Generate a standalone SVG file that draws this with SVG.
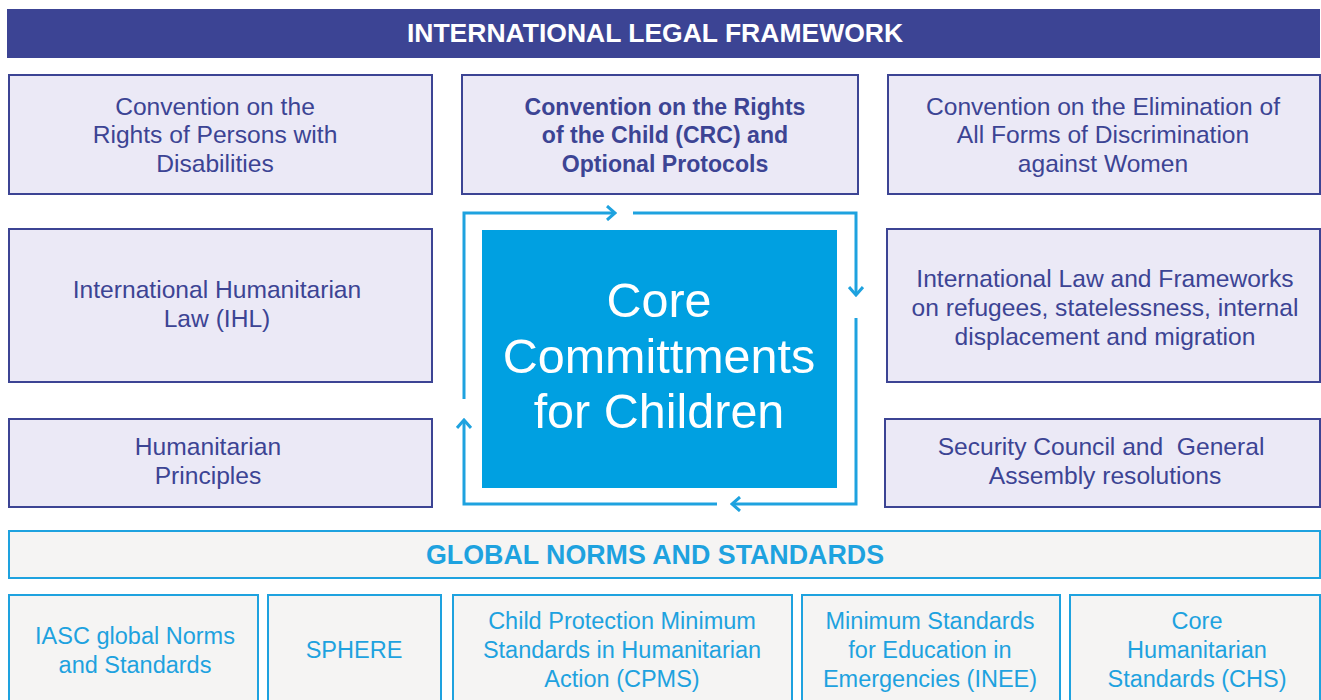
<svg xmlns="http://www.w3.org/2000/svg" width="1321" height="700" viewBox="0 0 1321 700">
<style>
.hdr{fill:#3c4494}
.hdrt{font-family:"Liberation Sans",Arial,sans-serif;font-weight:bold;font-size:26.5px;fill:#fff;text-anchor:middle}
.lb{fill:#ebe9f6;stroke:#3c4494;stroke-width:2}
.lt{font-family:"Liberation Sans",Arial,sans-serif;font-size:24.6px;fill:#3c4494;text-anchor:middle;white-space:pre}
.bold{font-weight:bold;font-size:23.1px}
.gb{fill:#f5f4f3;stroke:#1ea2df;stroke-width:2}
.gt{font-family:"Liberation Sans",Arial,sans-serif;font-size:23.5px;fill:#1ea2df;text-anchor:middle}
.ght{font-family:"Liberation Sans",Arial,sans-serif;font-weight:bold;font-size:26.8px;fill:#1ea2df;text-anchor:middle}
.core{fill:#00a0e1}
.coret{font-family:"Liberation Sans",Arial,sans-serif;font-size:48.5px;fill:#fff;text-anchor:middle}
.conn{fill:none;stroke:#1ea2df;stroke-width:3;stroke-linejoin:miter}
</style>
<defs>
<marker id="chev" viewBox="0 0 12 16" refX="10" refY="8" markerWidth="12" markerHeight="16" markerUnits="userSpaceOnUse" orient="auto">
<path d="M2,1 L10,8 L2,15" fill="none" stroke="#1ea2df" stroke-width="3"/>
</marker>
</defs>
<rect width="1321" height="700" fill="#fff"/>

<g id="header-ilf">
<rect class="hdr" x="7" y="9" width="1313" height="49"/>
<text class="hdrt" x="655" y="42">INTERNATIONAL LEGAL FRAMEWORK</text>
</g>

<g id="crpd">
<rect class="lb" x="9" y="75" width="423" height="119"/>
<text class="lt" x="215" y="115">Convention on the</text>
<text class="lt" x="215" y="143">Rights of Persons with</text>
<text class="lt" x="215" y="172">Disabilities</text>
</g>
<g id="crc">
<rect class="lb" x="462" y="75" width="396" height="119"/>
<text class="lt bold" x="665" y="115">Convention on the Rights</text>
<text class="lt bold" x="665" y="143">of the Child (CRC) and</text>
<text class="lt bold" x="665" y="172">Optional Protocols</text>
</g>
<g id="cedaw">
<rect class="lb" x="888" y="75" width="432" height="119"/>
<text class="lt" x="1103" y="115">Convention on the Elimination of</text>
<text class="lt" x="1103" y="143">All Forms of Discrimination</text>
<text class="lt" x="1103" y="172">against Women</text>
</g>
<g id="ihl">
<rect class="lb" x="9" y="229" width="423" height="153"/>
<text class="lt" x="217" y="298">International Humanitarian</text>
<text class="lt" x="217" y="327">Law (IHL)</text>
</g>
<g id="refugees">
<rect class="lb" x="887" y="229" width="433" height="153"/>
<text class="lt" x="1105" y="287">International Law and Frameworks</text>
<text class="lt" x="1105" y="316">on refugees, statelessness, internal</text>
<text class="lt" x="1105" y="345">displacement and migration</text>
</g>
<g id="principles">
<rect class="lb" x="9" y="419" width="423" height="88"/>
<text class="lt" x="208" y="455">Humanitarian</text>
<text class="lt" x="208" y="484">Principles</text>
</g>
<g id="resolutions">
<rect class="lb" x="885" y="419" width="435" height="88"/>
<text class="lt" x="1101" y="455">Security Council and  General</text>
<text class="lt" x="1105" y="484">Assembly resolutions</text>
</g>

<g id="core">
<rect class="core" x="482" y="230" width="355" height="258"/>
<text class="coret" x="659" y="317">Core</text>
<text class="coret" x="659" y="373">Committments</text>
<text class="coret" x="659" y="428">for Children</text>
</g>

<g id="connectors">
<path class="conn" d="M633,213 L856,213 L856,295" marker-end="url(#chev)"/>
<path class="conn" d="M856,318 L856,504 L732,504" marker-end="url(#chev)"/>
<path class="conn" d="M717,504 L464,504 L464,420" marker-end="url(#chev)"/>
<path class="conn" d="M464,399 L464,213 L615,213" marker-end="url(#chev)"/>
</g>

<g id="header-gns">
<rect class="gb" x="9" y="531" width="1311" height="47"/>
<text class="ght" x="655" y="564">GLOBAL NORMS AND STANDARDS</text>
</g>
<g id="iasc">
<rect class="gb" x="9" y="595" width="249" height="120"/>
<text class="gt" x="135" y="644">IASC global Norms</text>
<text class="gt" x="135" y="673">and Standards</text>
</g>
<g id="sphere">
<rect class="gb" x="268" y="595" width="173" height="120"/>
<text class="gt" x="354" y="658">SPHERE</text>
</g>
<g id="cpms">
<rect class="gb" x="453" y="595" width="339" height="120"/>
<text class="gt" x="622" y="629">Child Protection Minimum</text>
<text class="gt" x="622" y="658">Standards in Humanitarian</text>
<text class="gt" x="622" y="687">Action (CPMS)</text>
</g>
<g id="inee">
<rect class="gb" x="802" y="595" width="258" height="120"/>
<text class="gt" x="930" y="629">Minimum Standards</text>
<text class="gt" x="930" y="658">for Education in</text>
<text class="gt" x="930" y="687">Emergencies (INEE)</text>
</g>
<g id="chs">
<rect class="gb" x="1070" y="595" width="250" height="120"/>
<text class="gt" x="1197" y="629">Core</text>
<text class="gt" x="1197" y="658">Humanitarian</text>
<text class="gt" x="1197" y="687">Standards (CHS)</text>
</g>
</svg>
